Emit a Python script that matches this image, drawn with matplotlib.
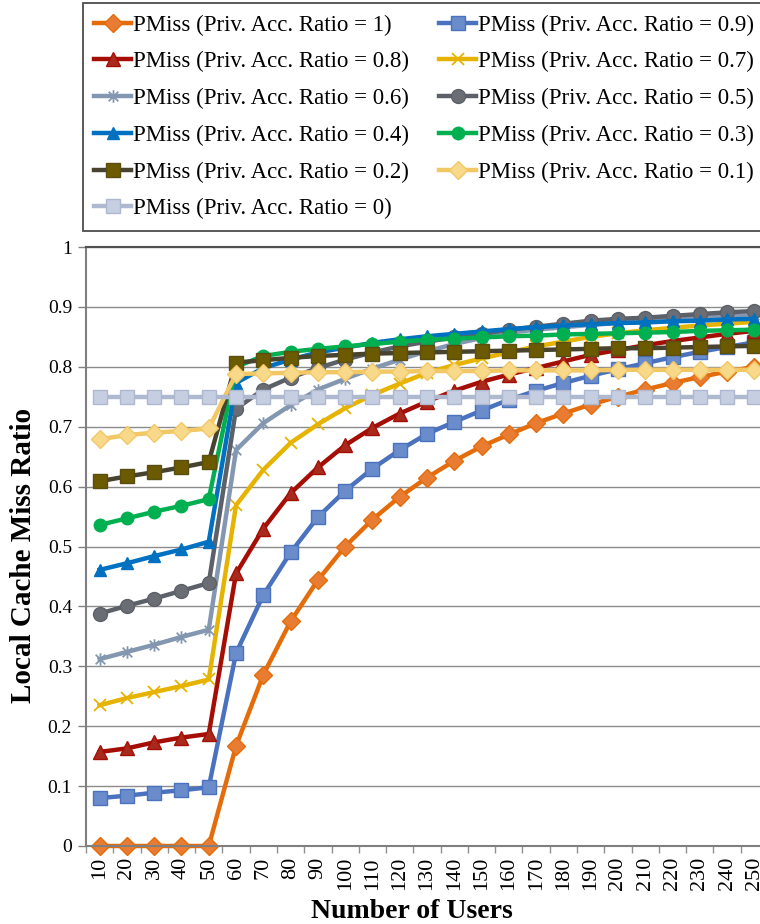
import matplotlib
matplotlib.use("Agg")
import matplotlib.pyplot as plt
from matplotlib.path import Path
from matplotlib.ticker import FuncFormatter

plt.rcParams['font.family'] = ['Liberation Serif', 'DejaVu Serif']

users = [10, 20, 30, 40, 50, 60, 70, 80, 90, 100, 110, 120, 130,
         140, 150, 160, 170, 180, 190, 200, 210, 220, 230, 240, 250]

pm_10 = [0, 0, 0, 0, 0, 0.167, 0.286, 0.375, 0.444, 0.5, 0.545, 0.583, 0.615,
         0.643, 0.667, 0.687, 0.706, 0.722, 0.737, 0.75, 0.762, 0.773, 0.783, 0.792, 0.8]
pm_09 = [0.080, 0.084, 0.089, 0.093, 0.098, 0.322, 0.419, 0.490, 0.549, 0.593, 0.630, 0.661, 0.688,
         0.708, 0.727, 0.745, 0.760, 0.773, 0.785, 0.796, 0.806, 0.816, 0.825, 0.833, 0.841]
pm_08 = [0.157, 0.163, 0.173, 0.181, 0.187, 0.455, 0.530, 0.589, 0.632, 0.669, 0.698, 0.722, 0.742,
         0.760, 0.775, 0.787, 0.798, 0.809, 0.820, 0.828, 0.836, 0.843, 0.849, 0.855, 0.860]
pm_07 = [0.235, 0.247, 0.257, 0.267, 0.278, 0.569, 0.628, 0.673, 0.704, 0.731, 0.753, 0.772, 0.790,
         0.803, 0.814, 0.824, 0.834, 0.842, 0.850, 0.856, 0.861, 0.865, 0.869, 0.872, 0.875]
pm_06 = [0.312, 0.324, 0.336, 0.349, 0.361, 0.661, 0.706, 0.736, 0.762, 0.780, 0.797, 0.812, 0.826,
         0.838, 0.848, 0.857, 0.862, 0.866, 0.870, 0.873, 0.876, 0.879, 0.882, 0.884, 0.886]
pm_05 = [0.388, 0.401, 0.413, 0.426, 0.439, 0.730, 0.762, 0.782, 0.798, 0.812, 0.824, 0.834, 0.842,
         0.849, 0.855, 0.862, 0.867, 0.872, 0.877, 0.880, 0.882, 0.885, 0.888, 0.891, 0.893]
pm_04 = [0.461, 0.472, 0.484, 0.495, 0.508, 0.773, 0.798, 0.812, 0.824, 0.832, 0.840, 0.846, 0.851,
         0.855, 0.859, 0.863, 0.866, 0.869, 0.871, 0.873, 0.874, 0.876, 0.877, 0.879, 0.880]
pm_03 = [0.536, 0.547, 0.558, 0.568, 0.579, 0.800, 0.818, 0.825, 0.830, 0.834, 0.838, 0.842, 0.845,
         0.847, 0.849, 0.851, 0.852, 0.854, 0.855, 0.856, 0.857, 0.858, 0.860, 0.861, 0.862]
pm_02 = [0.609, 0.617, 0.624, 0.632, 0.641, 0.807, 0.811, 0.815, 0.818, 0.820, 0.822, 0.823, 0.824,
         0.825, 0.826, 0.827, 0.828, 0.829, 0.830, 0.831, 0.831, 0.832, 0.833, 0.834, 0.835]
pm_01 = [0.679, 0.686, 0.690, 0.693, 0.697, 0.788, 0.789, 0.790, 0.791, 0.791, 0.792, 0.792, 0.793,
         0.793, 0.793, 0.794, 0.794, 0.794, 0.794, 0.795, 0.795, 0.795, 0.795, 0.795, 0.795]
pm_00 = [0.75] * 25

ratios = ['1', '0.9', '0.8', '0.7', '0.6', '0.5', '0.4', '0.3', '0.2', '0.1', '0']
series = [pm_10, pm_09, pm_08, pm_07, pm_06, pm_05, pm_04, pm_03, pm_02, pm_01, pm_00]

# asterisk marker like the office "star"
star = Path([(-1, -1), (1, 1), (-1, 1), (1, -1), (0, -1.3), (0, 1.3)],
            [Path.MOVETO, Path.LINETO, Path.MOVETO, Path.LINETO, Path.MOVETO, Path.LINETO])

# (line colour, marker, face, edge, size)
styles = [
    ('#E46C0A', 'D', '#E87C32', '#E46C0A', 9),
    ('#4A72BE', 's', '#6A8CCB', '#4A72BE', 9.5),
    ('#A50E05', '^', '#A82A1C', '#A50E05', 10),
    ('#E6B400', 'x', '#E6B400', '#E6B400', 9),
    ('#8497B0', star, '#8497B0', '#8497B0', 9),
    ('#5C6068', 'o', '#6A6D73', '#5C6068', 10),
    ('#0070C0', '^', '#0070C0', '#0070C0', 9),
    ('#00B050', 'o', '#00B050', '#00B050', 9),
    ('#47432E', 's', '#6B5A00', '#5A4E10', 10),
    ('#F2C865', 'D', '#F8D98A', '#F2C865', 9),
    ('#AEB8CF', 's', '#C6CEE2', '#AEB8CF', 10),
]

fig = plt.figure(figsize=(7.6, 9.24), dpi=100)
ax = fig.add_axes([86 / 760, 78 / 924, 682 / 760, 599 / 924])

handles = []
for vals, r, (lc, mk, fc, ec, ms) in zip(series, ratios, styles):
    mew = 1.3 if mk in ('x',) or mk is star else 1.0
    h, = ax.plot(users, vals, color=lc, lw=3.2, marker=mk, markersize=ms,
                 markerfacecolor=fc, markeredgecolor=ec, markeredgewidth=mew,
                 label='PMiss (Priv. Acc. Ratio = %s)' % r, clip_on=False)
    handles.append(h)

ax.set_xlim(5, 255)
ax.set_ylim(0, 1)
ax.set_yticks([i / 10 for i in range(11)])
ax.yaxis.set_major_formatter(FuncFormatter(lambda v, p: '%g' % round(v, 1)))
ax.set_xticks(users)
ax.set_xticklabels([str(u) for u in users], rotation=90, fontsize=16)
ax.set_xticks([u - 5 for u in users] + [255], minor=True)
ax.tick_params(axis='x', which='major', length=0, pad=8)
ax.tick_params(axis='x', which='minor', length=5, color='#909090', width=1)
ax.tick_params(axis='y', length=6, color='#808080', width=1, labelsize=14, pad=4)

ax.grid(axis='y', color='#8C8C8C', lw=1)
ax.set_axisbelow(True)
for s in ('left', 'bottom'):
    ax.spines[s].set_color('#7F7F7F')
    ax.spines[s].set_linewidth(1.5)
ax.spines['top'].set_color('#505050')
ax.spines['top'].set_linewidth(1.5)
ax.spines['right'].set_visible(False)

ax.set_ylabel('Local Cache Miss Ratio', fontsize=21, fontweight='bold')
ax.set_xlabel('Number of Users', fontsize=20, fontweight='bold')
ax.xaxis.set_label_coords((412 - 86) / 682, -0.088)
ax.yaxis.set_label_coords((37 - 86) / 682, (846 - 555) / 599)

# row-major legend order like the original
order = [0, 2, 4, 6, 8, 10, 1, 3, 5, 7, 9]
leg = fig.legend([handles[i] for i in order], [handles[i].get_label() for i in order],
                 loc='upper left', bbox_to_anchor=(83 / 760, 1 - 3 / 924),
                 ncol=2, fontsize=16.5, frameon=True, fancybox=False,
                 handlelength=1.6, handletextpad=0.1, columnspacing=1.3,
                 labelspacing=0.68, borderpad=0.5, borderaxespad=0)
leg.get_frame().set_edgecolor('#202020')
leg.get_frame().set_linewidth(1.3)

fig.savefig('out.png', dpi=100)
